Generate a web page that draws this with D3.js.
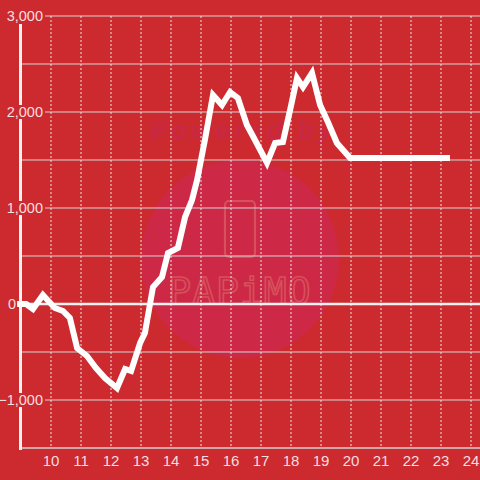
<!DOCTYPE html>
<html>
<head>
<meta charset="utf-8">
<script src="https://cdn.jsdelivr.net/npm/d3@7"></script>
<style>
  body { margin: 0; background: #cc2a2f; }
  svg { display: block; }
</style>
</head>
<body>
<script>
// values (x in hours, y in points)
const hours = [8.87, 9.17, 9.40, 9.73, 10.13, 10.40, 10.63, 10.87, 11.20, 11.50, 11.80, 12.20,
  12.47, 12.67, 12.97, 13.13, 13.40, 13.70, 13.90, 14.23, 14.47, 14.70, 14.87, 15.13,
  15.40, 15.70, 15.97, 16.23, 16.53, 16.80, 17.20, 17.47, 17.73, 17.97, 18.20, 18.40,
  18.70, 18.97, 19.23, 19.53, 19.97, 23.30]
const values = [0, 0, -52, 94, -42, -73, -146, -458, -542, -667, -771, -875,
  -677, -698, -406, -302, 177, 281, 531, 583, 906, 1083, 1292, 1708,
  2177, 2073, 2208, 2146, 1865, 1708, 1469, 1677, 1688, 2021, 2354, 2260,
  2406, 2073, 1896, 1677, 1521, 1521]

const xTicks = [10, 11, 12, 13, 14, 15, 16, 17, 18, 19, 20, 21, 22, 23, 24]
const yTicks = [-1000, 0, 1000, 2000, 3000]
const yHalfTicks = [-500, 500, 1500, 2500]

const width = 480, height = 480
const bg = '#cc2a2f'

const svg = d3.select('body').append('svg')
    .attr('width', width)
    .attr('height', height)

svg.append('rect').attr('width', width).attr('height', height).attr('fill', bg)

const xScale = d3.scaleLinear().domain([9, 24.3]).range([21, 480])
const yScale = d3.scaleLinear().domain([-1500, 3000]).range([448, 16])

// watermark
const wm = svg.append('g')
wm.append('text')
    .attr('x', 150).attr('y', 139)
    .attr('font-family', 'Liberation Sans, Arial, sans-serif')
    .attr('font-size', 26)
    .attr('font-weight', 'bold')
    .attr('font-style', 'italic')
    .attr('letter-spacing', 4)
    .attr('fill', '#c92844')
    .text('Powered by')
wm.append('circle')
    .attr('cx', 240).attr('cy', 259).attr('r', 99)
    .attr('fill', '#cd2946')
wm.append('rect')
    .attr('x', 225).attr('y', 201).attr('width', 30).attr('height', 56).attr('rx', 4)
    .attr('fill', 'none').attr('stroke', '#d6505d').attr('stroke-width', 2.2)
wm.append('text')
    .attr('x', 240).attr('y', 304)
    .attr('text-anchor', 'middle')
    .attr('font-family', 'DejaVu Sans Mono, monospace')
    .attr('font-size', 38)
    .attr('letter-spacing', 1)
    .attr('fill', 'none')
    .attr('stroke', '#d6505d')
    .attr('stroke-width', 1.6)
    .text('PAPiMO')

// half gridlines (start at the axis)
svg.selectAll('.half').data(yHalfTicks).enter().append('line')
    .attr('x1', 21).attr('x2', 480)
    .attr('y1', d => yScale(d)).attr('y2', d => yScale(d))
    .attr('stroke', '#d4d4d4').attr('stroke-width', 1)

// main gridlines (start after the labels)
svg.selectAll('.grid').data(yTicks.filter(d => d != 0)).enter().append('line')
    .attr('x1', 45).attr('x2', 480)
    .attr('y1', d => yScale(d)).attr('y2', d => yScale(d))
    .attr('stroke', '#d4d4d4').attr('stroke-width', 1)

// vertical dashed gridlines
svg.selectAll('.vgrid').data(xTicks).enter().append('line')
    .attr('x1', d => xScale(d)).attr('x2', d => xScale(d))
    .attr('y1', 16).attr('y2', 446)
    .attr('stroke', '#e6e6e6').attr('stroke-width', 1)
    .attr('stroke-dasharray', '2,2')

// x axis line
svg.append('line')
    .attr('x1', 20).attr('x2', 480)
    .attr('y1', 448).attr('y2', 448)
    .attr('stroke', '#d4d4d4').attr('stroke-width', 1.5)

// y axis line
svg.append('line')
    .attr('x1', 20.5).attr('x2', 20.5)
    .attr('y1', 24).attr('y2', 450)
    .attr('stroke', '#f2f2f2').attr('stroke-width', 3)

// zero line
svg.append('line')
    .attr('x1', 21).attr('x2', 480)
    .attr('y1', yScale(0)).attr('y2', yScale(0))
    .attr('stroke', '#f2f2f2').attr('stroke-width', 2.5)

// y labels with background so they cut the axis; the 0 sits left of the axis
const fmt = d3.format(',')
const labelRight = d => d == 0 ? 16 : 43
const yl = svg.selectAll('.ylab').data(yTicks).enter().append('g')
yl.filter(d => d != 0).append('rect')
    .attr('x', d => labelRight(d) - fmt(d).length * 8.1 - 1)
    .attr('y', d => yScale(d) - 7)
    .attr('width', d => fmt(d).length * 8.1 + 1)
    .attr('height', 14)
    .attr('fill', bg)
yl.append('text')
    .attr('x', labelRight)
    .attr('y', d => yScale(d))
    .attr('dy', '0.36em')
    .attr('text-anchor', 'end')
    .attr('font-family', 'Liberation Sans, Arial, sans-serif')
    .attr('font-size', 14.5)
    .attr('fill', '#f6dfe0')
    .text(d => fmt(d))

// x labels
svg.selectAll('.xlab').data(xTicks).enter().append('text')
    .attr('x', d => xScale(d))
    .attr('y', 466)
    .attr('text-anchor', 'middle')
    .attr('font-family', 'Liberation Sans, Arial, sans-serif')
    .attr('font-size', 15)
    .attr('fill', '#f6dfe0')
    .text(d => d)

// the data line
const line = d3.line()
    .x((d, i) => xScale(hours[i]))
    .y(d => yScale(d))

svg.append('path')
    .datum(values)
    .attr('d', line)
    .attr('fill', 'none')
    .attr('stroke', '#ffffff')
    .attr('stroke-width', 6)
</script>
</body>
</html>
